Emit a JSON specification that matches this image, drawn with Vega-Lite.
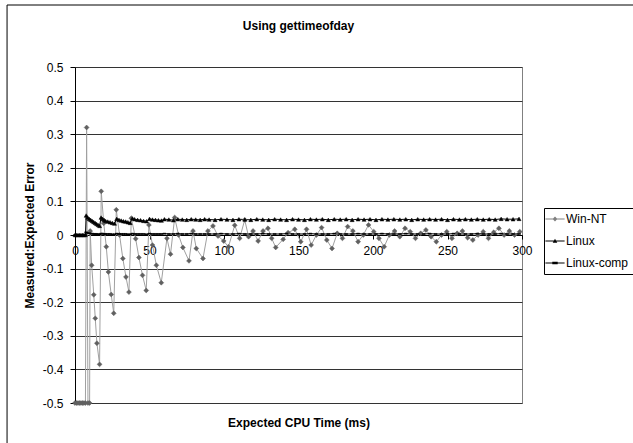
{
  "$schema": "https://vega.github.io/schema/vega-lite/v6.json",
  "width": 447,
  "height": 336,
  "autosize": {"type": "none"},
  "padding": {"left": 75, "top": 67, "right": 111, "bottom": 40},
  "background": "#ffffff",
  "title": {"text": "Using gettimeofday", "font": "Liberation Sans", "fontSize": 12, "fontWeight": "bold", "color": "#000000", "anchor": "middle", "frame": "group", "offset": -28},
  "data": {"values": [
    {"time": 0, "Win-NT": -0.5, "Linux": 0, "Linux-comp": 0},
    {"time": 1, "Win-NT": -0.5, "Linux": 0, "Linux-comp": 0},
    {"time": 2, "Win-NT": -0.5, "Linux": 0, "Linux-comp": 0},
    {"time": 3, "Win-NT": -0.5, "Linux": 0, "Linux-comp": 0},
    {"time": 4, "Win-NT": -0.5, "Linux": 0, "Linux-comp": 0},
    {"time": 5, "Win-NT": -0.5, "Linux": 0, "Linux-comp": 0},
    {"time": 6, "Win-NT": -0.5, "Linux": 0, "Linux-comp": 0},
    {"time": 7, "Win-NT": -0.5, "Linux": 0, "Linux-comp": 0},
    {"time": 7.8, "Win-NT": 0.32},
    {"time": 8.7, "Win-NT": -0.5},
    {"time": 9.8, "Win-NT": -0.5},
    {"time": 10.2, "Win-NT": 0.012},
    {"time": 11.2, "Win-NT": -0.09},
    {"time": 12.6, "Win-NT": -0.178},
    {"time": 13.6, "Win-NT": -0.248},
    {"time": 14.7, "Win-NT": -0.322},
    {"time": 16.5, "Win-NT": -0.385},
    {"time": 17.6, "Win-NT": 0.13},
    {"time": 19.3, "Win-NT": 0.035},
    {"time": 21.0, "Win-NT": -0.035},
    {"time": 22.4, "Win-NT": -0.11},
    {"time": 24.3, "Win-NT": -0.177},
    {"time": 26.0, "Win-NT": -0.233},
    {"time": 27.7, "Win-NT": 0.075},
    {"time": 29.9, "Win-NT": 0.0},
    {"time": 32.1, "Win-NT": -0.07},
    {"time": 34.2, "Win-NT": -0.125},
    {"time": 36.2, "Win-NT": -0.17},
    {"time": 37.8, "Win-NT": 0.05},
    {"time": 40.7, "Win-NT": -0.011},
    {"time": 42.9, "Win-NT": -0.067},
    {"time": 45.3, "Win-NT": -0.12},
    {"time": 47.8, "Win-NT": -0.165},
    {"time": 49.6, "Win-NT": 0.03},
    {"time": 52.0, "Win-NT": -0.03},
    {"time": 54.6, "Win-NT": -0.09},
    {"time": 57.9, "Win-NT": -0.142},
    {"time": 61.7, "Win-NT": -0.01},
    {"time": 64.1, "Win-NT": -0.057},
    {"time": 66.9, "Win-NT": 0.052},
    {"time": 69.5, "Win-NT": 0.0},
    {"time": 72.4, "Win-NT": -0.037},
    {"time": 76.5, "Win-NT": -0.077},
    {"time": 79.2, "Win-NT": 0.012},
    {"time": 81.4, "Win-NT": -0.04},
    {"time": 85.9, "Win-NT": -0.07},
    {"time": 89.2, "Win-NT": 0.012},
    {"time": 92.6, "Win-NT": 0.027},
    {"time": 96.0, "Win-NT": -0.003},
    {"time": 99.8, "Win-NT": -0.018},
    {"time": 103.0, "Win-NT": -0.035},
    {"time": 107.2, "Win-NT": 0.029},
    {"time": 110.5, "Win-NT": -0.01},
    {"time": 113.9, "Win-NT": 0.045},
    {"time": 116.5, "Win-NT": -0.005},
    {"time": 119.5, "Win-NT": 0.012},
    {"time": 122.9, "Win-NT": -0.018},
    {"time": 126.2, "Win-NT": 0.012},
    {"time": 129.5, "Win-NT": 0.02},
    {"time": 132.0, "Win-NT": -0.01},
    {"time": 134.7, "Win-NT": -0.037},
    {"time": 139.7, "Win-NT": -0.013},
    {"time": 143.0, "Win-NT": 0.007},
    {"time": 147.5, "Win-NT": 0.017},
    {"time": 151.5, "Win-NT": -0.02},
    {"time": 155.4, "Win-NT": 0.017},
    {"time": 158.5, "Win-NT": -0.03},
    {"time": 162.0, "Win-NT": 0.0},
    {"time": 165.5, "Win-NT": 0.022},
    {"time": 169.0, "Win-NT": -0.015},
    {"time": 172.5, "Win-NT": -0.04},
    {"time": 176.0, "Win-NT": 0.005},
    {"time": 179.5, "Win-NT": -0.01},
    {"time": 183.0, "Win-NT": 0.025},
    {"time": 186.5, "Win-NT": 0.012},
    {"time": 190.0, "Win-NT": -0.02},
    {"time": 193.5, "Win-NT": 0.0},
    {"time": 197.0, "Win-NT": 0.03},
    {"time": 200.5, "Win-NT": 0.01},
    {"time": 204.0, "Win-NT": -0.01},
    {"time": 207.5, "Win-NT": -0.035},
    {"time": 211.0, "Win-NT": 0.0},
    {"time": 214.5, "Win-NT": 0.012},
    {"time": 218.0, "Win-NT": -0.005},
    {"time": 221.5, "Win-NT": 0.02},
    {"time": 225.0, "Win-NT": 0.01},
    {"time": 228.5, "Win-NT": -0.01},
    {"time": 232.0, "Win-NT": 0.005},
    {"time": 235.5, "Win-NT": 0.015},
    {"time": 239.0, "Win-NT": -0.005},
    {"time": 242.5, "Win-NT": -0.02},
    {"time": 246.0, "Win-NT": 0.0},
    {"time": 249.5, "Win-NT": 0.01},
    {"time": 253.0, "Win-NT": -0.01},
    {"time": 256.5, "Win-NT": 0.005},
    {"time": 260.0, "Win-NT": 0.012},
    {"time": 263.5, "Win-NT": -0.008},
    {"time": 267.0, "Win-NT": -0.015},
    {"time": 270.5, "Win-NT": 0.0},
    {"time": 274.0, "Win-NT": 0.01},
    {"time": 277.5, "Win-NT": -0.01},
    {"time": 281.0, "Win-NT": 0.008},
    {"time": 284.5, "Win-NT": 0.02},
    {"time": 288.0, "Win-NT": 0.0},
    {"time": 291.5, "Win-NT": 0.012},
    {"time": 295.0, "Win-NT": 0.0},
    {"time": 298.5, "Win-NT": 0.01},
    {"time": 7.5, "Linux": 0.058, "Linux-comp": 0.008},
    {"time": 8.5, "Linux": 0.052, "Linux-comp": 0.006},
    {"time": 9.5, "Linux": 0.048, "Linux-comp": 0.005},
    {"time": 10.5, "Linux": 0.045, "Linux-comp": 0.004},
    {"time": 11.5, "Linux": 0.042, "Linux-comp": 0.004},
    {"time": 12.5, "Linux": 0.039, "Linux-comp": 0.003},
    {"time": 13.5, "Linux": 0.036, "Linux-comp": 0.003},
    {"time": 14.5, "Linux": 0.033, "Linux-comp": 0.003},
    {"time": 15.5, "Linux": 0.03, "Linux-comp": 0.002},
    {"time": 16.5, "Linux": 0.027, "Linux-comp": 0.002},
    {"time": 17.5, "Linux": 0.052, "Linux-comp": 0.004},
    {"time": 18.5, "Linux": 0.048, "Linux-comp": 0.004},
    {"time": 19.5, "Linux": 0.045, "Linux-comp": 0.003},
    {"time": 20.5, "Linux": 0.042, "Linux-comp": 0.003},
    {"time": 22, "Linux": 0.04, "Linux-comp": 0.003},
    {"time": 23.5, "Linux": 0.038, "Linux-comp": 0.003},
    {"time": 25, "Linux": 0.036, "Linux-comp": 0.002},
    {"time": 26.5, "Linux": 0.034, "Linux-comp": 0.002},
    {"time": 28, "Linux": 0.048, "Linux-comp": 0.004},
    {"time": 29.5, "Linux": 0.045, "Linux-comp": 0.003},
    {"time": 31, "Linux": 0.043, "Linux-comp": 0.003},
    {"time": 32.5, "Linux": 0.041, "Linux-comp": 0.003},
    {"time": 34, "Linux": 0.04, "Linux-comp": 0.003},
    {"time": 35.5, "Linux": 0.038, "Linux-comp": 0.002},
    {"time": 37, "Linux": 0.036, "Linux-comp": 0.002},
    {"time": 38.5, "Linux": 0.049, "Linux-comp": 0.004},
    {"time": 40, "Linux": 0.047, "Linux-comp": 0.003},
    {"time": 42, "Linux": 0.045, "Linux-comp": 0.003},
    {"time": 44, "Linux": 0.044, "Linux-comp": 0.003},
    {"time": 46, "Linux": 0.042, "Linux-comp": 0.003},
    {"time": 48, "Linux": 0.041, "Linux-comp": 0.002},
    {"time": 50, "Linux": 0.048, "Linux-comp": 0.004},
    {"time": 52, "Linux": 0.046, "Linux-comp": 0.003},
    {"time": 54, "Linux": 0.045, "Linux-comp": 0.003},
    {"time": 56, "Linux": 0.044, "Linux-comp": 0.003},
    {"time": 58, "Linux": 0.043, "Linux-comp": 0.003},
    {"time": 60, "Linux": 0.047, "Linux-comp": 0.004},
    {"time": 63, "Linux": 0.046, "Linux-comp": 0.003},
    {"time": 66, "Linux": 0.044, "Linux-comp": 0.003},
    {"time": 69, "Linux": 0.047, "Linux-comp": 0.004},
    {"time": 72, "Linux": 0.046, "Linux-comp": 0.003},
    {"time": 75, "Linux": 0.045, "Linux-comp": 0.003},
    {"time": 78, "Linux": 0.047, "Linux-comp": 0.004},
    {"time": 81, "Linux": 0.046, "Linux-comp": 0.003},
    {"time": 84, "Linux": 0.045, "Linux-comp": 0.003},
    {"time": 87, "Linux": 0.047, "Linux-comp": 0.003},
    {"time": 90, "Linux": 0.046, "Linux-comp": 0.003},
    {"time": 94, "Linux": 0.045, "Linux-comp": 0.003},
    {"time": 98, "Linux": 0.047, "Linux-comp": 0.004},
    {"time": 102, "Linux": 0.046, "Linux-comp": 0.003},
    {"time": 106, "Linux": 0.045, "Linux-comp": 0.003},
    {"time": 110, "Linux": 0.047, "Linux-comp": 0.004},
    {"time": 114, "Linux": 0.046, "Linux-comp": 0.003},
    {"time": 118, "Linux": 0.045, "Linux-comp": 0.003},
    {"time": 122, "Linux": 0.047, "Linux-comp": 0.003},
    {"time": 126, "Linux": 0.046, "Linux-comp": 0.004},
    {"time": 130, "Linux": 0.045, "Linux-comp": 0.003},
    {"time": 134, "Linux": 0.047, "Linux-comp": 0.003},
    {"time": 138, "Linux": 0.046, "Linux-comp": 0.003},
    {"time": 142, "Linux": 0.045, "Linux-comp": 0.004},
    {"time": 146, "Linux": 0.047, "Linux-comp": 0.003},
    {"time": 150, "Linux": 0.046, "Linux-comp": 0.003},
    {"time": 154, "Linux": 0.045, "Linux-comp": 0.003},
    {"time": 158, "Linux": 0.047, "Linux-comp": 0.004},
    {"time": 162, "Linux": 0.046, "Linux-comp": 0.003},
    {"time": 166, "Linux": 0.047, "Linux-comp": 0.003},
    {"time": 170, "Linux": 0.045, "Linux-comp": 0.003},
    {"time": 174, "Linux": 0.047, "Linux-comp": 0.004},
    {"time": 178, "Linux": 0.046, "Linux-comp": 0.003},
    {"time": 182, "Linux": 0.047, "Linux-comp": 0.003},
    {"time": 186, "Linux": 0.045, "Linux-comp": 0.003},
    {"time": 190, "Linux": 0.047, "Linux-comp": 0.004},
    {"time": 194, "Linux": 0.046, "Linux-comp": 0.003},
    {"time": 198, "Linux": 0.047, "Linux-comp": 0.003},
    {"time": 202, "Linux": 0.045, "Linux-comp": 0.003},
    {"time": 206, "Linux": 0.047, "Linux-comp": 0.004},
    {"time": 210, "Linux": 0.046, "Linux-comp": 0.003},
    {"time": 214, "Linux": 0.047, "Linux-comp": 0.003},
    {"time": 218, "Linux": 0.046, "Linux-comp": 0.003},
    {"time": 222, "Linux": 0.047, "Linux-comp": 0.004},
    {"time": 226, "Linux": 0.045, "Linux-comp": 0.003},
    {"time": 230, "Linux": 0.047, "Linux-comp": 0.003},
    {"time": 234, "Linux": 0.046, "Linux-comp": 0.003},
    {"time": 238, "Linux": 0.047, "Linux-comp": 0.004},
    {"time": 242, "Linux": 0.046, "Linux-comp": 0.003},
    {"time": 246, "Linux": 0.047, "Linux-comp": 0.003},
    {"time": 250, "Linux": 0.045, "Linux-comp": 0.003},
    {"time": 254, "Linux": 0.047, "Linux-comp": 0.004},
    {"time": 258, "Linux": 0.046, "Linux-comp": 0.003},
    {"time": 262, "Linux": 0.047, "Linux-comp": 0.003},
    {"time": 266, "Linux": 0.046, "Linux-comp": 0.003},
    {"time": 270, "Linux": 0.047, "Linux-comp": 0.004},
    {"time": 274, "Linux": 0.046, "Linux-comp": 0.003},
    {"time": 278, "Linux": 0.047, "Linux-comp": 0.003},
    {"time": 282, "Linux": 0.046, "Linux-comp": 0.003},
    {"time": 286, "Linux": 0.048, "Linux-comp": 0.004},
    {"time": 290, "Linux": 0.047, "Linux-comp": 0.003},
    {"time": 294, "Linux": 0.047, "Linux-comp": 0.003},
    {"time": 298, "Linux": 0.048, "Linux-comp": 0.003}
  ]},
  "transform": [
    {"fold": ["Win-NT", "Linux", "Linux-comp"], "as": ["series", "error"]},
    {"filter": "isValid(datum.error)"}
  ],
  "layer": [
    {
      "data": {"values": [{"frame": "left"}]},
      "mark": {"type": "rule", "color": "#000000", "strokeWidth": 1},
      "encoding": {
        "x": {"datum": -45.6, "type": "quantitative"},
        "y": {"datum": 0.6845, "type": "quantitative"},
        "y2": {"datum": -0.8}
      }
    },
    {
      "data": {"values": [{"frame": "top"}]},
      "mark": {"type": "rule", "color": "#000000", "strokeWidth": 1},
      "encoding": {
        "x": {"datum": -45.6, "type": "quantitative"},
        "x2": {"datum": 420},
        "y": {"datum": 0.6845, "type": "quantitative"}
      }
    },
    {
      "mark": {"type": "line", "strokeWidth": 1},
      "encoding": {
        "x": {"field": "time", "type": "quantitative",
          "scale": {"domain": [0, 300], "nice": false, "zero": false},
          "axis": {"values": [0, 50, 100, 150, 200, 250, 300], "tickCount": 20, "format": "d", "offset": -168,
            "domainColor": "#000000", "domainWidth": 1, "tickColor": "#000000", "tickSize": 4,
            "labelFont": "Liberation Sans", "labelFontSize": 12, "labelColor": "#000000", "labelPadding": 6,
            "labelFlush": false, "labelOverlap": false, "grid": false,
            "title": "Expected CPU Time (ms)", "titleFont": "Liberation Sans", "titleFontSize": 12,
            "titleFontWeight": "bold", "titleColor": "#000000", "titleX": 223.5, "titleY": 187, "titleBaseline": "middle"}},
        "y": {"field": "error", "type": "quantitative",
          "scale": {"domain": [-0.5, 0.5], "nice": false, "zero": false},
          "axis": {"values": [-0.5, -0.4, -0.3, -0.2, -0.1, 0, 0.1, 0.2, 0.3, 0.4, 0.5], "tickCount": 20,
            "labelExpr": "datum.value === 0 ? '0' : (datum.value < 0 ? '-' + format(-datum.value, '.1f') : format(datum.value, '.1f'))",
            "domainColor": "#000000", "domainWidth": 1, "tickColor": "#000000", "tickSize": 5,
            "labelFont": "Liberation Sans", "labelFontSize": 12, "labelColor": "#000000", "labelPadding": 7,
            "labelFlush": false, "labelOverlap": false,
            "grid": true, "gridColor": "#333333", "gridWidth": 1,
            "title": "Measured:Expected Error", "titleFont": "Liberation Sans", "titleFontSize": 12,
            "titleFontWeight": "bold", "titleColor": "#000000", "titleX": -46, "titleY": 168, "titleBaseline": "middle", "titleAngle": -90}},
        "color": {"field": "series", "type": "nominal",
          "scale": {"domain": ["Win-NT", "Linux", "Linux-comp"], "range": ["#a0a0a0", "#000000", "#000000"]},
          "legend": null}
      }
    },
    {
      "mark": {"type": "point", "filled": true, "strokeWidth": 0.5, "opacity": 1},
      "encoding": {
        "x": {"field": "time", "type": "quantitative"},
        "y": {"field": "error", "type": "quantitative"},
        "shape": {"field": "series", "type": "nominal",
          "scale": {"domain": ["Win-NT", "Linux", "Linux-comp"], "range": ["diamond", "triangle-up", "M-1,-0.35H1V0.35H-1Z"]}, "legend": null},
        "size": {"field": "series", "type": "nominal",
          "scale": {"domain": ["Win-NT", "Linux", "Linux-comp"], "range": [24, 9, 36]}, "legend": null},
        "fill": {"field": "series", "type": "nominal",
          "scale": {"domain": ["Win-NT", "Linux", "Linux-comp"], "range": ["#606060", "#000000", "#000000"]}, "legend": null},
        "stroke": {"field": "series", "type": "nominal",
          "scale": {"domain": ["Win-NT", "Linux", "Linux-comp"], "range": ["#606060", "#000000", "#000000"]}, "legend": null}
      }
    },
    {
      "data": {"values": [{"series": "Win-NT"}, {"series": "Linux"}, {"series": "Linux-comp"}]},
      "mark": {"type": "point", "filled": true, "opacity": 0, "size": 144},
      "encoding": {
        "shape": {"field": "series", "type": "nominal",
          "scale": {"domain": ["Win-NT", "Linux", "Linux-comp"],
            "range": ["M-1.6,-0.08H1.6V0.08H-1.6ZM0,-0.4L0.4,0L0,0.4L-0.4,0Z", "M-1.6,-0.08H1.6V0.08H-1.6ZM-0.38,0.3L0,-0.38L0.38,0.3Z", "M-1.6,-0.08H1.6V0.08H-1.6ZM-0.45,-0.2H0.45V0.2H-0.45Z"]},
          "legend": {"orient": "none", "legendX": 469, "legendY": 141, "title": null,
            "strokeColor": "#000000", "fillColor": "#ffffff", "padding": 5,
            "labelFont": "Liberation Sans", "labelFontSize": 12, "labelColor": "#000000",
            "rowPadding": 10, "labelOffset": 5, "symbolSize": 144, "symbolOpacity": 1, "symbolStrokeWidth": 0}},
        "fill": {"field": "series", "type": "nominal",
          "scale": {"domain": ["Win-NT", "Linux", "Linux-comp"], "range": ["#808080", "#000000", "#000000"]},
          "legend": {"orient": "none", "legendX": 469, "legendY": 141, "title": null,
            "strokeColor": "#000000", "fillColor": "#ffffff", "padding": 5,
            "labelFont": "Liberation Sans", "labelFontSize": 12, "labelColor": "#000000",
            "rowPadding": 10, "labelOffset": 5, "symbolSize": 144, "symbolOpacity": 1, "symbolStrokeWidth": 0}}
      }
    }
  ],
  "resolve": {"scale": {"shape": "independent", "fill": "independent"}, "legend": {"shape": "independent", "fill": "independent"}},
  "config": {
    "view": {"stroke": "#808080", "strokeWidth": 1},
    "font": "Liberation Sans"
  }
}
